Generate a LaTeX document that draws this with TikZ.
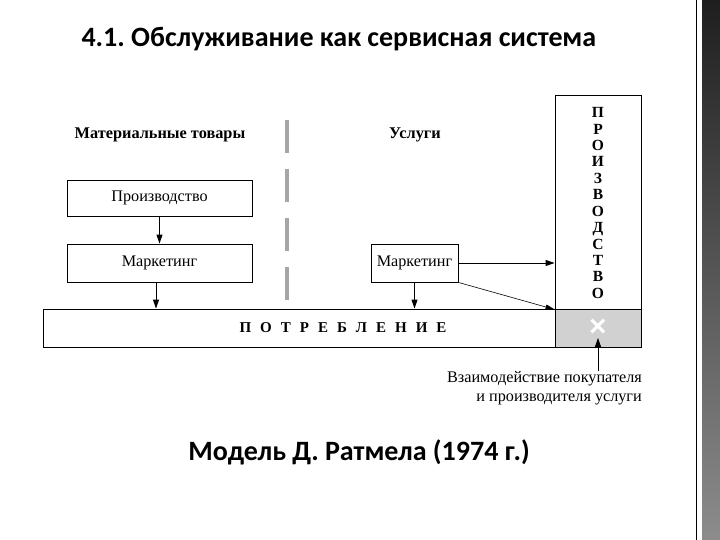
\documentclass[tikz,border=0pt]{standalone}
\usepackage{fontspec}
\setmainfont{Liberation Serif}
\newfontfamily\titlefont{Carlito}
\newfontfamily\crossfont{Liberation Sans}
\usetikzlibrary{arrows.meta,positioning}
\frenchspacing
\tikzset{
  box/.style={draw,line width=0.9pt,inner sep=0pt},
  flow/.style={-{Triangle[length=9pt,width=6pt]},line width=0.9pt},
  thinflow/.style={-{Triangle[length=9pt,width=5pt]},line width=0.6pt},
  label/.style={font=\fontsize{16.2}{19}\selectfont},
  head/.style={font=\bfseries\fontsize{16.3}{19}\selectfont},
  slidetitle/.style={font=\titlefont\bfseries\fontsize{28}{32}\selectfont},
}
\newcommand\lgap{\hspace{9pt}}
\begin{document}
\begin{tikzpicture}[x=1pt,y=-1pt]
  \useasboundingbox (0,0) rectangle (720,540);
  % slide frame on the right
  \shade[top color=black!88,bottom color=black!45] (702,0) rectangle (720,540);
  \draw[line width=1pt] (696,0) -- (696,540);
  % titles
  \node[slidetitle,anchor=base west] (title) at (78,47) {4.1. Обслуживание как сервисная система};
  \node[slidetitle,anchor=base] (caption) at (359,460) {Модель Д. Ратмела (1974 г.)};
  % column heads and separator
  \node[head] (goods) at (160,135) {Материальные товары};
  \node[head] (services) at (415,135) {Услуги};
  \draw[black!35,line width=4pt,dash pattern=on 33pt off 16pt] (287,120) -- (287,300);
  % consumption bar
  \node[box,minimum width=598,minimum height=38] (cons) at (342,328) {};
  \node[box,fill=black!18,minimum width=86,minimum height=38] (meet) at (598,328) {};
  \node[text=white,font=\crossfont\bfseries\fontsize{30}{30}\selectfont,inner sep=1pt] (cross) at (598,328) {×};
  \node[head,font=\bfseries\fontsize{15}{17}\selectfont] (consText) at (343,328) {П\lgap О\lgap Т\lgap Р\lgap Е\lgap Б\lgap Л\lgap Е\lgap Н\lgap И\lgap Е};
  % production column
  \node[box,minimum width=86,minimum height=214] (prodCol) at (598,202) {};
  \node[align=center,font=\bfseries\fontsize{15.5}{16.4}\selectfont] (prodText) at (598,203)
    {П\\Р\\О\\И\\З\\В\\О\\Д\\С\\Т\\В\\О};
  % goods side
  \node[box,label,minimum width=185,minimum height=36] (prodL) at (159.5,198) {Производство};
  \node[box,label,minimum width=185,minimum height=38] (mktL) at (159.5,263) {Маркетинг};
  \draw[flow] (prodL) -- (mktL);
  \draw[flow] ([xshift=-3.5pt]mktL.south) -- ([xshift=-3.5pt]mktL.south |- cons.north);
  % services side
  \node[box,label,minimum width=87,minimum height=38] (mktR) at (414.5,263) {Маркетинг};
  \draw[flow] (mktR.south) -- (mktR.south |- cons.north);
  \draw[flow] (mktR.east) -- (mktR.east -| prodCol.west);
  \draw[thinflow] (mktR.south east) -- (prodCol.south west);
  % interaction note
  \node[label,align=right,anchor=north east,inner sep=0pt] (note) at (642,371)
    {Взаимодействие покупателя\\и производителя услуги};
  \draw[flow] (note.north -| cross) -- (cross.south);
\end{tikzpicture}
\end{document}
